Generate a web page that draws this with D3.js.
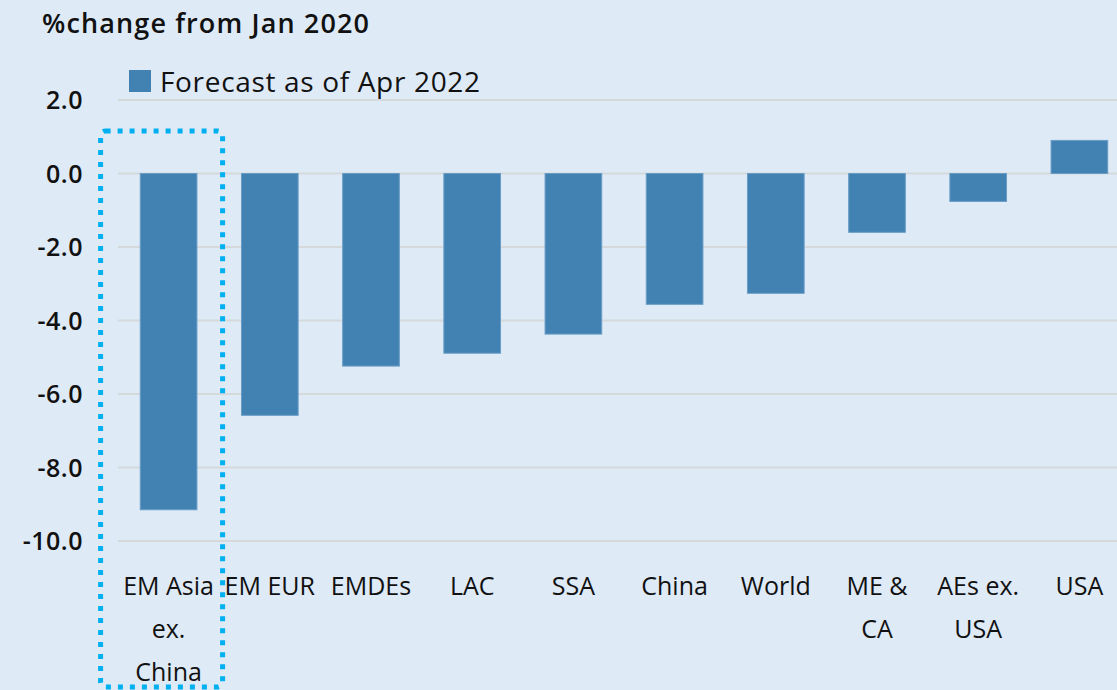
<!DOCTYPE html>
<html>
<head>
<meta charset="utf-8">
<script src="https://cdn.jsdelivr.net/npm/d3@7"></script>
<style>
  html, body { margin: 0; padding: 0; background: #DEEAF6; }
  svg { display: block; }
  text { font-family: "Open Sans", "Noto Sans", sans-serif; fill: #111; }
</style>
</head>
<body>
<svg id="chart" width="1117" height="690"></svg>
<script>
// Output change since January 2020, by region
const categories = [
  ["EM Asia", "ex.", "China"],
  ["EM EUR"],
  ["EMDEs"],
  ["LAC"],
  ["SSA"],
  ["China"],
  ["World"],
  ["ME &", "CA"],
  ["AEs ex.", "USA"],
  ["USA"]
];
const forecastApr2022 = [-9.15, -6.58, -5.24, -4.89, -4.37, -3.56, -3.26, -1.60, -0.76, 0.90];
const yTicks = [2, 0, -2, -4, -6, -8, -10];
const seriesName = "Forecast as of Apr 2022";
const yTitle = "%change from Jan 2020";

const svg = d3.select("#chart");
const W = 1117, H = 690;

const plot = { left: 118, right: 1130, top: 100, bottom: 541 };

const keys = categories.map((c, i) => i);
const x = d3.scaleBand().domain(keys).range([plot.left, plot.right]).paddingInner(0.44).paddingOuter(0.22);
const y = d3.scaleLinear().domain([-10, 2]).range([plot.bottom, plot.top]);

svg.append("rect").attr("width", W).attr("height", H).attr("fill", "#DEEAF6");

// horizontal gridlines
svg.append("g").selectAll("line").data(yTicks).join("line")
  .attr("x1", plot.left).attr("x2", W)
  .attr("y1", d => y(d)).attr("y2", d => y(d))
  .attr("stroke", "#D6D9DC").attr("stroke-width", 2);

// y-axis tick labels (plain hyphen for negatives)
const fmt = d3.format(".1f");
const yAxis = d3.axisLeft(y).tickValues(yTicks)
  .tickFormat(d => fmt(d).replace("\u2212", "-"))
  .tickSize(0).tickPadding(0);
const gy = svg.append("g").attr("transform", "translate(83,0)").call(yAxis);
gy.select(".domain").remove();
gy.selectAll("text")
  .attr("font-family", "'Open Sans', 'Noto Sans', sans-serif")
  .attr("font-size", 25).attr("font-weight", 600).attr("fill", "#111")
  .attr("letter-spacing", 0.5)
  .attr("dy", "0.35em");

// bars
svg.append("g").selectAll("rect").data(forecastApr2022).join("rect")
  .attr("x", (d, i) => x(i))
  .attr("width", x.bandwidth())
  .attr("y", d => y(Math.max(0, d)))
  .attr("height", d => Math.abs(y(d) - y(0)))
  .attr("fill", "#4182B2")
  .attr("stroke", "#6A9DC6").attr("stroke-width", 1);

// category labels
const cat = svg.append("g").selectAll("text").data(categories).join("text")
  .attr("text-anchor", "middle")
  .attr("font-size", 25)
  .attr("x", (d, i) => x(i) + x.bandwidth() / 2)
  .attr("y", 595);
cat.selectAll("tspan").data(d => d).join("tspan")
  .attr("x", function () { return d3.select(this.parentNode).attr("x"); })
  .attr("dy", (d, j) => j === 0 ? 0 : 43)
  .text(d => d);

// highlight frame around the first category
const bx0 = x(0) + x.bandwidth() / 2 - 68;
svg.append("rect")
  .attr("x", bx0).attr("y", 131)
  .attr("width", 122).attr("height", 556)
  .attr("rx", 5)
  .attr("fill", "none")
  .attr("stroke", "#00B0F0").attr("stroke-width", 5)
  .attr("stroke-dasharray", "5,7");

// axis title
svg.append("text").attr("x", 42).attr("y", 33)
  .attr("font-size", 27).attr("font-weight", 600)
  .attr("textLength", 327).attr("lengthAdjust", "spacing")
  .text(yTitle);

// legend
svg.append("rect").attr("x", 129).attr("y", 70).attr("width", 22).attr("height", 22).attr("fill", "#4182B2");
svg.append("text").attr("x", 160).attr("y", 92)
  .attr("font-size", 28)
  .attr("textLength", 320).attr("lengthAdjust", "spacing")
  .text(seriesName);
</script>
</body>
</html>
